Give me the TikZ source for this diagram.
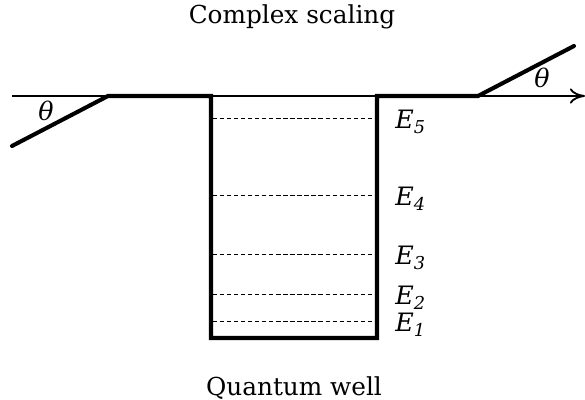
\documentclass[tikz,border=0pt]{standalone}
\usepackage{fontspec}
\setmainfont{DejaVu Serif}
\usetikzlibrary{arrows.meta}

\begin{document}
\begin{tikzpicture}[
  x=0.025cm, y=-0.025cm,
  axis/.style={line width=1.1pt,-{To[length=3.8mm,width=3.8mm,line width=1.3pt]}},
  wall/.style={line width=2.9pt,line join=miter,line cap=round},
  level/.style={line width=0.5pt,densely dashed},
  elabel/.style={anchor=west,font=\fontsize{18}{20}\selectfont\itshape,inner sep=0pt},
  title/.style={font=\fontsize{17.6}{20}\selectfont,inner sep=0pt}
]
\useasboundingbox (0,0) rectangle (585,400);
% axis and potential
\coordinate (axL) at (12,96);
\coordinate (axR) at (585,96);
\coordinate (sL) at (12,146);
\coordinate (kL) at (108,96);
\coordinate (wL) at (211,96);
\coordinate (bL) at (211,338);
\coordinate (bR) at (377,338);
\coordinate (wR) at (377,96);
\coordinate (kR) at (478,96);
\coordinate (sR) at (574,46);
\draw[axis] (axL) -- (axR);
\draw[wall] (sL) -- (kL) -- (wL) -- (bL) -- (bR) -- (wR) -- (kR) -- (sR);
% bound states
\foreach \y/\n in {118/5,195/4,254/3,294/2,321/1} {
  \draw[level] (213,\y) -- (375,\y);
  \node[elabel] (E\n) at (395,\y+4) {E\textsubscript{\n}};
}
% angles and titles
\node[font=\fontsize{18}{20}\selectfont\itshape] (thL) at (46,111) {θ};
\node[font=\fontsize{18}{20}\selectfont\itshape] (thR) at (542,78) {θ};
\node[title] (top) at (292,17) {Complex scaling};
\node[title] (bot) at (294,388) {Quantum well};
\end{tikzpicture}
\end{document}
